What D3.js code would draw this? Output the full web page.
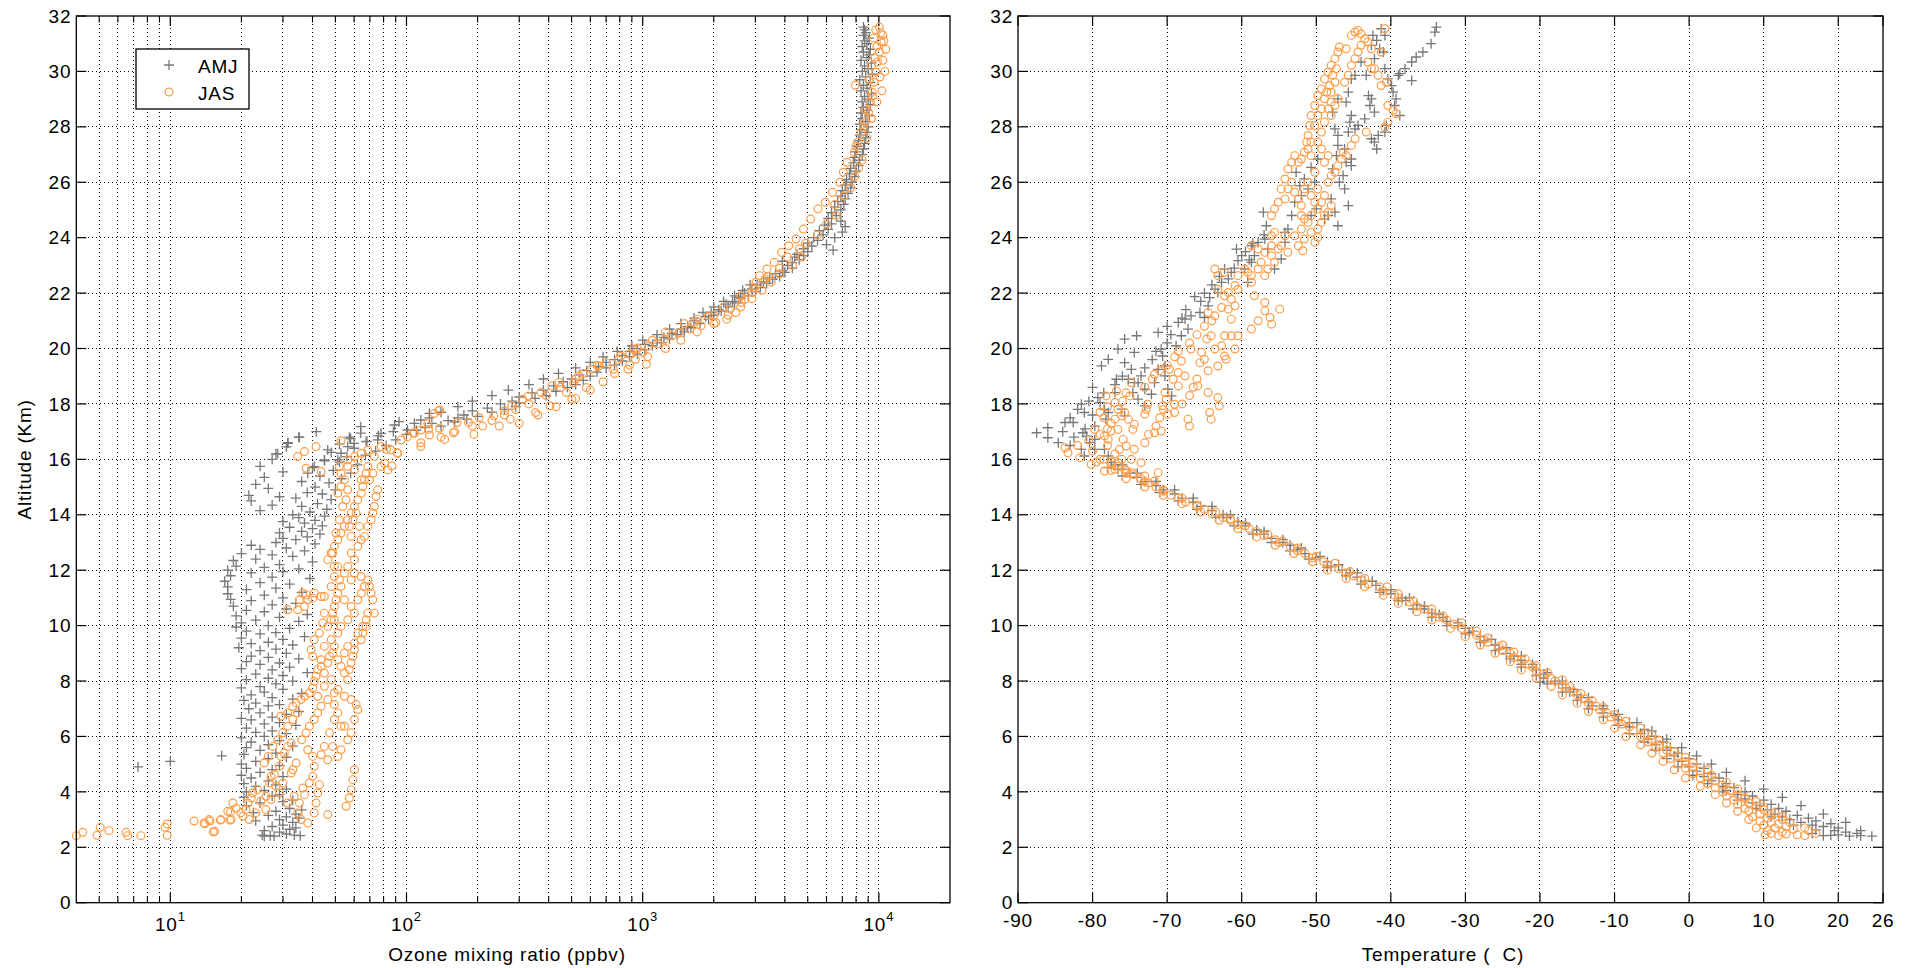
<!DOCTYPE html>
<html><head><meta charset="utf-8">
<script src="https://cdn.jsdelivr.net/npm/d3@7"></script>
<style>
body{margin:0;background:#fff;}
svg text{font-family:"Liberation Sans",Arial,Helvetica,sans-serif;fill:#000;}
</style></head><body>
<svg id="chart" width="1916" height="968"></svg>
<script>
// ---------- tick labels / categories ----------
const altTicks = [0,2,4,6,8,10,12,14,16,18,20,22,24,26,28,30,32];
const tempTicks = [-90,-80,-70,-60,-50,-40,-30,-20,-10,0,10,20,26];
const ozoneMajorTicks = [10,100,1000,10000];
const ozoneMajorExp = ["1","2","3","4"];
const seriesNames = ["AMJ","JAS"];
const ozoneLabel = "Ozone mixing ratio (ppbv)";
const tempLabel = "Temperature (  C)";
const altLabel = "Altitude (Km)";

// ---------- data: [altitude km, ozone ppbv] ----------
const ozoneAMJ = [
[2.40,25],[2.42,26.5],[2.44,24.5],[2.40,27.5],[2.48,31],[2.44,33.5],[2.42,35.5],[2.55,29],[2.60,25],[2.65,32],[2.70,34],[2.75,27],[2.80,30],[2.90,33],[2.95,23],[3.00,29],[3.05,35],[3.10,31],[3.15,26],[3.20,34],[3.25,22.5],[3.30,28],[3.35,36],[3.40,32],
[3.50,21],[3.60,24],[3.65,30],[3.70,33],[3.80,20.5],[3.85,27],[3.90,29],[4.00,21],[4.05,25],[4.10,31],[4.20,23],[4.25,28],[4.30,20.5],[4.40,26],[4.50,22],[4.55,30],[4.60,20],[4.70,24],[4.80,27],[4.85,21],[4.95,29],[5.00,20],
[4.90,7.3],[5.10,10],[5.30,16.5],
[5.10,23],[5.20,26],[5.25,31],[5.35,20.5],[5.40,28],[5.50,24],[5.60,21],[5.65,33],[5.70,26],[5.80,22],[5.85,29],[5.95,20],[6.00,25],[6.10,31],[6.15,23],[6.20,27],[6.30,21],[6.40,34],[6.45,25],[6.50,29],[6.60,22],[6.65,20],[6.70,27],[6.80,31],[6.85,24],[6.90,35],[7.00,21.5],
[7.10,26],[7.15,29],[7.20,23],[7.30,20.5],[7.35,33],[7.40,27],[7.50,22],[7.55,36],[7.60,25],[7.70,30],[7.75,20],[7.80,24],[7.90,28],[8.00,33],[8.05,21],[8.10,26],[8.20,30],[8.25,23],[8.30,38],[8.40,27],[8.45,20],[8.50,32],[8.60,24],[8.65,29],[8.70,21],[8.80,35],[8.85,26],[8.90,22],[9.00,31],
[9.10,24],[9.15,28],[9.20,19.5],[9.30,33],[9.35,22],[9.40,26],[9.50,30],[9.55,20],[9.60,37],[9.70,24],[9.75,28],[9.80,21],[9.90,32],[9.95,19],
[10.00,26],[10.10,20],[10.15,35],[10.20,23],[10.30,29],[10.35,19],[10.40,38],[10.50,25],[10.55,21],[10.60,31],[10.70,18.5],[10.75,27],[10.80,34],[10.90,22],[10.95,18],[11.00,30],[11.10,25],[11.15,17.5],[11.20,36],[11.30,21],[11.35,28],[11.40,17.5],[11.50,32],[11.55,24],[11.60,17],[11.70,39],[11.75,27],[11.80,18],[11.90,22],[11.95,30],[12.00,17.5],[12.05,35],
[12.10,25],[12.15,19],[12.20,29],[12.30,40],[12.35,18.5],[12.40,23],[12.50,33],[12.55,27],[12.60,20],[12.70,37],[12.75,24],[12.80,31],[12.90,22],[12.95,41],[13.00,28],
[13.10,34],[13.15,30],[13.20,38],[13.30,43],[13.35,29],[13.40,36],[13.50,40],[13.55,32],[13.60,44],[13.70,37],[13.75,30],[13.80,41],[13.90,35],[13.95,45],[14.00,33],
[14.10,39],[14.15,24],[14.20,46],[14.30,36],[14.35,27],[14.40,42],[14.50,22],[14.55,48],[14.60,34],[14.65,29],[14.70,21.5],[14.75,44],[14.80,38],[14.90,50],[14.95,26],[15.00,41],
[15.10,23],[15.15,47],[15.20,36],[15.30,53],[15.35,25],[15.40,43],[15.50,58],[15.55,30],[15.60,49],[15.70,40],[15.75,24],[15.80,62],[15.90,52],[15.95,45],[16.00,27],
[16.10,56],[16.15,67],[16.20,28],[16.25,48],[16.30,74],[16.40,60],[16.45,31],[16.50,82],[16.55,52],[16.60,31.5],[16.65,68],[16.70,90],[16.75,58],[16.80,35],[16.85,76],[16.90,100],[16.95,64],[17.00,41.5],[17.00,88],[17.05,110],
[17.18,64],[17.24,89],[17.36,93],[17.30,108],[17.42,115],[17.66,125],[17.06,101],[16.94,78],[16.70,75.5],[16.64,67.5],[16.58,60],[16.46,56.4],[16.80,57.3],[16.22,52.8],[15.98,51.2],[16.34,46.4],[15.98,44.9],[15.74,40.7],[15.50,38.2],[16.80,35.2],[16.58,31.4],[16.20,28.5],
[17.15,120],[17.20,140],[17.30,128],[17.35,160],[17.40,150],[17.45,180],[17.50,165],[17.55,200],[17.60,175],[17.70,230],[17.75,190],[17.80,260],[17.85,220],[17.90,290],[18.00,250],[18.05,300],[18.10,280],
[18.20,350],[18.25,300],[18.30,390],[18.40,340],[18.45,430],[18.50,380],[18.60,480],[18.65,420],[18.70,520],[18.80,460],[18.85,560],[18.90,500],[19.00,600],[19.05,540],
[19.15,640],[19.20,580],[19.30,700],[19.35,650],[19.40,760],[19.50,700],[19.55,820],[19.60,760],[19.70,880],[19.75,820],[19.80,950],[19.90,880],[19.95,1020],[20.00,950],
[20.10,1100],[20.15,1020],[20.20,1200],[20.30,1150],[20.35,1300],[20.40,1230],[20.50,1400],[20.55,1330],[20.60,1500],[20.70,1450],[20.75,1600],[20.80,1550],[20.90,1750],[21.00,1650],[21.05,1900],
[21.15,1850],[21.20,2000],[21.30,1950],[21.35,2150],[21.40,2100],[21.50,2300],[21.60,2250],[21.65,2450],[21.70,2400],[21.80,2600],[21.85,2550],[21.90,2800],[22.00,2700],[22.05,3000],
[22.15,2900],[22.20,3150],[22.30,3050],[22.35,3350],[22.40,3250],[22.50,3550],[22.55,3450],[22.60,3800],[22.70,3650],[22.75,4000],[22.80,3900],[22.90,4300],[23.00,4100],
[23.10,4300],[23.15,3900],[23.20,4600],[23.30,4400],[23.35,4800],[23.40,4500],[23.50,5000],[23.55,6400],[23.60,4800],[23.70,5200],[23.75,6000],[23.80,5000],[23.90,5500],[24.00,6500],[24.00,5300],[24.10,5800],[24.20,7000],[24.25,5600],[24.30,6100],[24.40,7200],[24.45,5900],[24.50,6300],[24.60,6900],[24.70,6100],[24.80,6600],[24.90,6300],[25.00,6900],
[25.10,6500],[25.20,7100],[25.30,6700],[25.40,7200],[25.50,6900],[25.60,7400],[25.70,7000],[25.80,7600],[25.90,7200],[26.00,7700],[26.10,7300],[26.20,7900],[26.30,7500],[26.40,8000],[26.50,7600],[26.60,8200],[26.70,7800],[26.80,8300],[26.90,7900],[27.00,8500],
[27.10,8000],[27.20,8600],[27.30,8100],[27.40,8700],[27.50,8200],[27.60,8800],[27.70,8300],[27.80,8900],[27.90,8400],[28.00,9000],[28.10,8300],[28.20,8800],[28.30,8500],[28.40,9100],[28.50,8400],[28.60,8900],[28.70,8600],[28.80,9200],[28.90,8500],[29.00,9000],
[29.10,8700],[29.20,9300],[29.30,8400],[29.40,8900],[29.50,8600],[29.60,9200],[29.70,8300],[29.80,8800],[29.90,9400],[30.00,8500],[30.10,9000],[30.20,8700],[30.30,9300],[30.40,8400],[30.50,8900],[30.60,9100],[30.70,8600],[30.80,9200],[30.90,8500],[31.00,8900],[31.10,8700],[31.20,9100],[31.30,8600],[31.40,8800],[31.50,8700],[31.60,8600],
[17.50,125],[17.70,140],[17.90,165],[18.10,190],[18.30,230],[18.50,270],[18.70,330],[18.90,380],[19.10,440],[19.30,520],[19.50,600],[19.70,680],[19.90,780],[20.10,900],[20.30,1000],[20.50,1150],[20.70,1300],[20.90,1450],[21.10,1650],[21.30,1800],[21.50,2000],[21.70,2200],[21.90,2450],[22.10,2650],[22.30,2850]
];

const ozoneJAS = [
[2.42,4.0],[2.54,4.26],[2.43,4.9],[2.72,5.05],[2.60,5.5],[2.54,6.5],[2.42,6.6],[2.42,7.5],[2.72,9.5],[2.84,9.7],[2.43,9.7],[2.95,12.6],[2.85,14.0],[2.95,14.7],[2.55,15.2],[2.98,16.3],[2.98,17.9],[3.28,18],[3.41,19],
[2.88,13.9],[3.00,14.6],[2.58,15.4],[3.00,16.4],[3.30,17.5],[3.00,18.1],[3.60,18.4],[3.24,19.9],[3.12,20.3],[3.36,20.9],[3.60,21.3],[3.78,22.0],[3.96,22.3],[4.08,23.4],[3.66,24.2],[3.84,25.4],[4.32,26.3],[4.56,26.7],[4.62,27.6],[4.20,28.0],[4.92,29.0],[5.28,29.4],[5.40,30.4],[5.64,31.4],[5.76,32.5],[4.80,33.0],[5.04,34.1],[3.60,35.2],[4.14,36.4],[3.90,37.0],[2.88,38.2],[4.32,38.8],[4.56,40.1],[4.92,40.7],[3.24,40.7],[3.60,41.4],[3.96,42.1],[4.26,42.8],[5.34,43.5],[3.18,46.4],[6.13,47.2],[5.64,48.7],[7.15,49.5],[5.28,51.2],[5.52,52.8],[6.37,54.6],[3.48,55.5],[3.78,57.3],[4.08,58.3],[4.44,59.3],[4.80,60.2],[5.88,56.4],[6.13,58.3],[6.61,60.2],[6.97,62.2],[7.15,61.2],
[5.04,25],[5.28,26],[5.64,27.2],[5.88,28.5],[6.13,29.9],[6.37,31.4],[6.61,33],[6.85,34.6],[5.88,36],[6.13,37.6],[6.37,38.8],[6.61,40.7],[6.85,42.1],[7.09,43.5],[5.64,44.9],[5.16,46.4],[5.52,38.2],[5.28,40.1],[6.61,49.5],[6.85,51.2],[6.37,52.8],[4.68,32.5],[4.32,30],[3.96,29],[3.72,26.7],[3.36,25.4],[3.24,23],[3.00,21.6],[3.60,31.4],[3.84,33.5],[3.24,34.6],[3.00,35.8],
[6.73,29.4],[6.85,31.4],[7.09,33],[7.21,34.1],[7.33,35.8],[7.45,37],[7.57,38.8],[7.75,40.1],[7.99,40.7],[8.17,41.4],[8.41,42.1],[8.53,43.5],[8.29,44.9],[8.65,46.4],[8.89,47.2],[9.01,48.7],[9.25,49.5],[8.77,51.2],[8.53,52.8],[8.29,54.6],[8.05,56.4],[8.41,57.3],[8.65,58.3],[8.89,59.3],[9.13,60.2],[9.37,60.2],[9.73,62.2],[9.49,64.3],[9.97,65.3],[10.21,67.5],[10.45,68.6],[9.13,39.5],[9.49,40.7],[8.89,40.1],[7.45,42.1],[7.81,44.9],[8.05,48],[7.69,51.2],[7.45,54.6],[7.33,58.3],[7.33,46.4],[7.57,49.5],[8.77,43.5],[9.25,44.9],[9.49,48],[9.73,51.2],[9.01,54.6],[9.25,56.4],[9.73,42.8],[10.09,44.2],
[9.97,46.4],[10.21,48],[10.45,48.7],[10.69,49.5],[10.93,50.3],[11.17,51.2],[11.41,52.8],[11.65,52],[11.89,54.6],[12.13,56.4],[10.69,58.3],[10.45,60.2],[10.93,62.2],[11.17,64.3],[11.41,66.4],[11.65,68.6],[11.17,70.8],[10.93,72],[10.45,73.1],[9.97,67.5],[9.73,65.3],[10.45,44.9],[11.05,43.5],[11.17,40.7],[10.93,38.2],[10.69,37],[11.17,36.4],[10.57,34.6],[10.57,31.4],[11.05,44.9],[10.93,35.2],[11.11,37.6],[10.99,40.1],[10.21,49.5],[9.97,52.8],[10.21,56.4],[10.93,54.6],[11.65,58.3],[11.89,60.2],[11.41,48],[12.13,49.5],[11.77,64.3],[11.41,69.7],
[12.38,46.4],[12.62,48],[12.86,49.5],[13.10,51.2],[13.34,52.8],[13.58,54.6],[13.82,56.4],[14.06,58.3],[14.30,60.2],[14.54,62.2],[14.78,64.3],[15.02,65.3],[15.26,66.4],[15.50,67.5],[15.74,68.6],[12.62,58.3],[12.38,60.2],[12.86,62.2],[13.10,64.3],[13.22,66.4],[13.58,68.6],[13.82,70.8],[14.06,72],[14.30,73.1],[14.66,74.3],[14.90,75.5],[12.13,51.2],[11.77,49.5],[13.22,58.3],[14.90,56.4],[15.26,54.6],[15.50,52.8],[15.74,52],[12.62,48.7],[13.34,50.3],[13.82,52],[14.30,53.7],[14.54,55.5],[13.58,57.3],[13.82,59.3],[14.06,61.2],[13.58,63.2],[14.78,51.2],[15.02,52.8],[15.74,56.4],[15.62,60.2],[15.26,64.3],[15.26,69.7],[15.50,72],[15.74,78.1],[15.98,62.2],
[16.67,52.8],[15.98,56.4],[16.10,60.2],[16.22,64.3],[16.34,68.6],[16.10,73.1],[16.46,78.1],[15.86,80.7],[15.62,83.3],[16.34,86.1],[16.22,91.8],[16.70,94.9],[16.82,101],[16.94,108],[17.06,115],[16.46,115],[17.30,123],[16.88,125],[17.66,131],[17.78,138],[17.12,138],
[16.10,34.6],[16.28,37],[15.68,37.6],[16.46,41.4],[15.56,43.5],
[16.36,82.3],[16.24,91.5],[15.76,86.8],[16.96,107],[16.60,115],[17.08,124],[17.75,137],[16.72,145],[16.96,158],[17.33,164],[17.33,183],[16.90,193],[17.51,203],[17.20,210],[17.57,234],[17.20,247],[17.75,260],[17.45,275],[17.93,279],[18.17,310],[18.29,328],[17.69,352],[18.41,371],[17.93,405],[18.65,413],[18.77,442],[18.41,475],[18.17,501],[18.77,510],[19.01,538],[18.59,577],[19.25,609],[19.37,653],[19.49,700],[19.25,752],[19.73,808],[19.25,866],[19.98,915],[19.61,932],[19.86,1000],[19.43,1037],[20.10,1056],[20.16,1150],[20.34,1236],[20.46,1329],[20.58,1426],[20.70,1586],[20.94,1643],[20.82,1767],[21.06,1704],[21.18,1898],[20.94,2040],[21.06,2270],[21.42,2347],[21.30,2478],[21.66,2616],[21.78,2713],[22.02,2912],[22.39,3017],[22.63,3127],[22.87,3358],[23.11,3604],[23.47,3870],[23.71,4155],[23.95,4461],[24.31,4790],[24.67,5140],[25.04,5520],[25.28,5930],[25.64,6360],[26.00,6830],[26.36,7070],[26.72,7330],[27.08,7860],[27.45,8140],[27.81,8430],[28.17,8730],[28.53,9040],[28.89,9200],[29.25,9360],[29.61,9530],[29.98,9700],[30.34,9870],[30.70,10040],[31.06,10220],[31.30,10400],[31.60,10040],
[26.50,8200],[26.80,8500],[27.30,8000],[27.60,8900],[28.00,8600],[28.30,9300],[28.60,8800],[28.90,9800],[29.10,9400],[29.30,10300],[29.50,7950],[29.70,9100],[29.80,10100],[30.00,10600],[30.20,9300],[30.40,10400],[30.50,9600],[30.80,10700],[30.90,9800],[31.10,10500],[31.20,9500],[31.40,10200],[31.50,9700],[25.50,7100],[25.80,7600],[26.20,7900],[24.50,6000],[24.80,6600],[25.20,6500],[23.80,4900],[24.10,5500],[23.30,4100],[23.60,4600],[22.60,3400],[22.90,3800],[22.20,2950],[22.50,3300],[21.90,2600],[21.50,2200],[21.20,2000],[20.90,1500],[20.60,1250],[20.30,1100],[20.00,950],[19.80,880],[19.60,790],[19.40,640],[19.10,560],[18.90,520],[18.60,450],[18.30,390],[18.00,330],[17.80,290],[17.60,260],[17.40,230],[17.20,190],[17.00,160],[16.80,140],
[17.30,300],[17.60,360],[17.90,430],[18.20,520],[18.50,600],[18.80,680],[19.10,760],[19.40,880],[19.70,1050],[20.00,1250],[20.30,1450],[20.60,1700],[20.90,2000],[21.20,2300],[21.50,2600],[21.80,2900],[22.10,3200],[22.40,3500],[22.70,3800],[23.00,4300],[23.30,4700]
];

// ---------- data: [altitude km, temperature C] ----------
const tempAMJ = [
[2.40,24.5],[2.42,23],[2.40,21.5],[2.45,20],[2.43,19],[2.42,18],[2.50,22.5],[2.55,21],[2.60,19.5],[2.62,17],[2.70,20],[2.75,18],[2.80,16.5],[2.85,19],[2.90,15],[2.95,17],[3.00,13.5],[3.05,16],[3.10,12.5],[3.15,14.5],[3.20,11.5],[3.30,13],[3.35,10.5],[3.40,12],[3.50,9.5],[3.55,11],[3.60,8.5],[3.70,10],[3.75,7.5],[3.85,8.5],[3.90,6.5],[4.00,7.5],[4.05,5],[4.15,6],[4.20,4.5],[4.30,5],[4.40,3],[4.50,4],[4.55,2],[4.65,3],[4.75,1],[4.85,2],[4.90,0],[5.00,1],[5.10,-1],[5.20,0],[5.30,-2],[5.40,-1.5],[5.50,-3],[5.60,-2.5],[5.70,-4.5],[5.80,-3.5],[5.90,-5.5],[6.00,-4.5],[6.10,-6.5],[6.25,-6],[6.35,-8],[6.50,-8],[6.60,-9.5],[6.75,-10],[6.85,-11.5],[7.00,-11.5],[7.10,-13],[7.25,-13.5],[7.40,-14.5],[7.50,-15],[7.60,-16],[7.75,-16.5],[7.90,-17.5],[8.00,-18],[8.10,-19.5],[8.25,-19.5],[8.40,-20.5],[8.50,-21],[8.60,-22.5],[8.75,-22.5],[8.90,-23.5],[9.00,-24.5],[9.15,-25.5],[9.30,-26],[9.45,-27.5],[9.60,-28],[9.75,-29.5],[9.90,-30],[10.00,-31],[10.15,-32.5],[10.30,-33],[10.45,-34.5],[10.60,-35.5],[10.75,-36.5],[10.90,-38],[11.00,-38.5],[11.15,-40],[11.30,-41],[11.45,-42],[11.60,-43.5],[11.75,-44.5],[11.90,-45.5],[12.00,-46.5],[12.15,-48],[12.30,-48.5],[12.45,-50],[12.60,-51.5],[12.75,-52.5],[12.90,-53.5],[13.00,-54.5],[13.15,-56],[13.30,-57],[13.45,-58],[13.60,-59.5],[13.75,-60.5],[13.90,-62],[14.00,-62.5],[14.15,-64],[14.30,-65.5],[14.45,-66.5],[14.60,-68],[14.75,-69],[14.90,-70.5],[15.05,-71.5],[15.20,-73],[15.35,-74],[15.50,-75],[15.65,-76],[15.80,-77],[7.95,-20],
[2.60,23],[2.90,21],[3.20,18],[3.50,15],[3.80,12.5],[4.10,10],[4.40,7.5],[4.70,5],[5.00,3],[5.30,1],[5.60,-1],[5.90,-3],[6.20,-5],[6.50,-7],[6.80,-9.5],[7.10,-11.5],[7.40,-13.5],[7.70,-15.5],[8.00,-17],[8.30,-19],[8.60,-21],[8.90,-22.5],[9.20,-24.5],[9.50,-26.5],[9.80,-29],[10.10,-31],[10.40,-33.5],[10.70,-35.5],[11.00,-37.5],[11.30,-40],[11.60,-42.5],[11.90,-44.5],[12.20,-47],[12.50,-49.5],[12.80,-52],[13.10,-54.5],[13.40,-57],[13.70,-59.5],[14.00,-61.5],[14.30,-64],[14.60,-66.5],[14.90,-69],[15.20,-71.5],[15.50,-74],[15.80,-76],
[2.50,16.5],[2.80,14],[3.10,11],[3.40,9],[3.70,6.5],[4.00,4.5],[4.30,2.5],[4.60,0.5],[4.90,-1.5],[5.20,-3],[5.50,-4.5],[5.80,-6],[6.10,-8],[6.40,-9.5],[6.70,-11.5],[7.00,-13.5],[7.30,-15],[7.60,-17],[7.90,-19],[8.20,-20.5],[8.50,-22.5],[8.80,-24],[9.10,-26],[9.40,-28],[9.70,-30],[10.00,-32.5],[10.30,-34.5],[10.60,-37],[10.90,-39],[11.20,-41.5],[11.50,-44],[11.80,-46],[12.10,-48.5],[12.40,-51],[12.70,-53.5],[13.00,-56],[13.30,-58.5],[13.60,-61],[13.90,-63.5],[14.20,-66],[14.50,-68.5],[14.80,-71],[15.10,-73.5],[15.40,-76],[15.70,-78],
[16.96,-87.5],[17.14,-86],[16.78,-86],[16.60,-84.6],[17.33,-83.7],[17.33,-82.6],[17.99,-81.5],[17.69,-81.1],[16.96,-81.3],[16.84,-80.8],[16.60,-80.4],[16.36,-81.5],[16.12,-81.1],[16.36,-79.7],[18.23,-79.3],[18.05,-79],[17.80,-78.4],[17.69,-77.9],[17.45,-78.2],[17.20,-79.7],[16.72,-79.7],[16.36,-78.4],[16.12,-77.9],[15.88,-77.5],[15.64,-76.6],[20.34,-75.7],[20.46,-74.1],[19.49,-75.7],[19.25,-74.8],[19.86,-74.4],[18.77,-73.9],[19.01,-73.5],[18.53,-73],[18.17,-73.9],[18.41,-74.6],[18.77,-74.4],[17.93,-73],[18.35,-72.1],[18.77,-71.7],[19.25,-71.2],[20.58,-71.2],[19.98,-70.8],[19.37,-70.3],[19.73,-70.6],[19.01,-70.3],[18.53,-69.9],[18.29,-69.4],[20.94,-68.5],[20.10,-68.8],[20.46,-68.1],[21.06,-67.6],[20.70,-67.2],[21.18,-66.8],[21.87,-66.3],[21.30,-65.6],[21.12,-65],[21.54,-64.5],[21.84,-64.3],[22.14,-63.6],[22.02,-63.2],[22.39,-62.7],[22.87,-62.3],[22.51,-61.8],[22.75,-61.4],[23.59,-60.7],[23.17,-60.5],[23.35,-60],[22.87,-59.6],[22.39,-59.2],[23.11,-58.7],[23.71,-58.7],[23.35,-58.3],[23.83,-57.8],[24.92,-57.1],[23.95,-56.9],[24.43,-56.7],[23.59,-56.5],[22.87,-55.6],[23.23,-54.7],[24.19,-54.2],[23.83,-54.2],[24.31,-53.8],[24.80,-53.3],[25.28,-52.9],[26.36,-52.7],[25.88,-52.2],[25.52,-52],[26.12,-51.6],[25.76,-51.1],[24.80,-50.7],[26.54,-50.7],[26.00,-50.2],[26.84,-49.8],[25.04,-50],[24.67,-48.9],[24.80,-48.4],[25.40,-48],[24.92,-47.5],[24.43,-47.1],[26.48,-47.8],[26.96,-47.3],[27.33,-47.1],[26.00,-46.9],[26.24,-46.4],[25.76,-46.2],[25.16,-45.7],[26.72,-46],[26.60,-45.3],[26.84,-45.3],[27.81,-45.7],[27.20,-46.2],[28.17,-45.5],[28.41,-45.3],[27.93,-44.8],[28.05,-44.4],[27.93,-47.5],[27.69,-47.1],[28.53,-47.8],[29.01,-47.1],[28.89,-46],[29.25,-45.7],[29.73,-45.3],[29.86,-44.8],[30.34,-44],[29.86,-43.3],[29.13,-43],[29.01,-42.6],[28.77,-42.8],[28.53,-42.2],[28.29,-43.5],[27.57,-42.6],[27.45,-42.2],[27.69,-41.7],[27.81,-40.8],[28.05,-40.6],[27.20,-41.9],[30.94,-42.6],[31.30,-42.4],[31.12,-41.9],[30.82,-41.5],[30.46,-42.2],[30.70,-41],[30.10,-40.8],[29.73,-40.4],[29.49,-39.9],[29.25,-39.7],[28.77,-39.5],[29.01,-39.3],[29.86,-39],[28.41,-38.8],[31.30,-40.8],[31.54,-41.3],[29.92,-38.8],[30.10,-38.1],[30.34,-37.2],[30.52,-36.6],[30.70,-35.7],[31.00,-34.6],[31.42,-34.1],[31.60,-33.9],[29.67,-37.2],[19.98,-76.6],[17.81,-76.1],[17.57,-75.7],[18.89,-75.2],[18.89,-76.8],[18.41,-77],[19.37,-78.8],[19.61,-77.9],
[17.00,-84],[17.50,-83],[17.80,-82],[18.10,-80.5],[18.40,-78.5],[18.70,-77],[19.00,-76],[19.30,-73],[19.60,-72],[19.90,-71.5],[20.20,-70],[20.50,-69.5],[20.80,-70],[21.10,-68],[21.40,-67.5],[21.70,-65.5],[22.00,-65],[22.30,-64],[22.60,-63],[22.90,-61],[23.20,-59],[23.50,-59.5],[23.80,-58.5],[24.10,-57],[16.50,-83],[16.80,-82.5],[17.10,-81],[17.60,-80],[18.60,-80]
];

const tempJAS = [
[2.45,10.2],[2.50,11],[2.42,12],[2.48,13],[2.45,14.5],[2.42,15.5],[2.50,17],[2.55,12.5],[2.60,10.5],[2.65,14],[2.70,11.5],[2.75,13],[2.80,10],[2.85,12],[2.90,11],[2.95,9.5],[3.00,12.5],[3.05,10.5],[3.10,8.5],[3.15,11],[3.20,9.5],[3.30,8],[3.35,10],[3.40,7.5],[3.50,9],[3.55,6.5],[3.60,8],[3.70,6],[3.75,7.5],[3.85,5],[3.90,6.5],[4.00,4.5],[4.05,5.5],[4.15,3.5],[4.25,4.5],[4.30,2.5],[4.40,3.5],[4.50,1.5],[4.55,2.5],[4.65,0.5],[4.75,1.5],[4.85,-0.5],[4.90,0.5],[5.00,-1.5],[5.10,-0.5],[5.20,-2.5],[5.30,-1.5],[5.40,-3.5],[5.50,-3],[5.60,-4.5],[5.70,-4],[5.80,-5.5],[5.90,-5],[6.00,-6.5],[6.10,-6],[6.20,-7.5],[6.35,-8],[6.45,-9],[6.60,-9.5],[6.70,-10.5],[6.85,-11],[6.95,-12],[7.10,-12.5],[7.20,-13.5],[7.35,-14],[7.50,-15],[7.60,-15.5],[7.75,-16.5],[7.85,-17],[8.00,-18],[8.10,-18.5],[8.25,-19.5],[8.35,-20.5],[8.50,-21],[8.60,-21.5],[8.75,-22.5],[8.85,-23.5],[9.00,-24],[9.10,-25],[9.25,-25.5],[9.40,-27],[9.50,-27.5],[9.65,-28.5],[9.80,-29.5],[9.90,-30.5],[10.05,-31.5],[10.20,-32.5],[10.30,-33.5],[10.45,-34.5],[10.60,-35.5],[10.70,-36.5],[10.85,-37.5],[11.00,-39],[11.10,-39.5],[11.25,-41],[11.40,-41.5],[11.50,-43],[11.65,-44],[11.80,-45],[11.90,-46],[12.05,-47],[12.20,-48.5],[12.30,-49],[12.45,-50.5],[12.60,-51.5],[12.70,-52.5],[12.85,-53.5],[13.00,-55],[13.10,-55.5],[13.25,-57],[13.40,-58],[13.50,-59],[13.65,-60.5],[13.80,-61.5],[13.90,-62.5],[14.05,-64],[14.20,-65],[14.30,-66],[14.45,-67.5],[14.60,-68.5],[14.70,-69.5],[14.85,-70.5],[15.00,-71.5],[15.15,-72.5],[15.30,-73.5],[15.45,-74.5],[15.60,-75.5],[15.75,-76.5],[15.90,-77.5],[16.00,-78.5],
[2.60,16],[2.70,15.5],[2.90,13.5],[3.10,12.5],[3.25,11.5],[3.45,10],[3.65,9],[3.80,7.5],[4.10,6.5],[4.35,5],[4.60,3],[4.80,2.5],[5.05,0.5],[5.25,-0.5],[5.45,-2],[5.65,-3],[5.85,-4],[6.05,-5],[6.30,-6.5],[6.55,-8.5],[6.80,-10],[7.05,-11.5],[7.30,-13],[7.55,-14.5],[7.80,-16],[8.05,-17],[8.30,-19],[8.55,-20.5],[8.80,-22],[9.05,-23.5],[9.30,-25],[9.55,-27],[9.80,-28.5],[10.10,-30.5],[10.35,-33],[10.60,-34.5],[10.90,-37],[11.15,-39],[11.40,-40.5],[11.70,-43.5],[11.95,-45.5],[12.25,-47.5],[12.50,-50],[12.80,-52.5],[13.05,-54.5],[13.30,-56.5],[13.60,-59.5],[13.85,-61.5],[14.10,-63.5],[14.35,-66],[14.60,-68],[14.90,-70.5],[15.20,-73],[15.50,-75.5],[15.80,-77.5],
[2.70,9],[3.00,8],[3.30,6.5],[3.60,5],[3.90,3.5],[4.20,1.5],[4.50,-0.5],[4.80,-2],[5.10,-3.5],[5.40,-5],[5.70,-6.5],[6.00,-8.5],[6.30,-10],[6.60,-11.5],[6.90,-13.5],[7.20,-15],[7.50,-17],[7.80,-18.5],[8.10,-20.5],[8.40,-22.5],[8.70,-24],[9.00,-26],[9.30,-28],[9.60,-30],[9.90,-32],[10.20,-34.5],[10.50,-36.5],[10.80,-39],[11.10,-41],[11.40,-43.5],[11.70,-46],[12.00,-48.5],[12.30,-50.5],[12.60,-53],[12.90,-55.5],[13.20,-58],[13.50,-60.5],[13.80,-63],[14.10,-65.5],[14.40,-68],[14.70,-70.5],[15.00,-73],[15.30,-75.5],[15.60,-77.5],[15.90,-79.5],
[16.42,-83.7],[16.24,-83.3],[16.06,-81.7],[15.82,-80.2],[16.00,-79.0],[15.58,-78.4],[15.64,-77.0],[15.88,-76.6],[16.00,-76.1],[15.64,-75.7],[16.00,-74.8],[15.52,-74.6],[15.88,-73.5],[15.40,-73.0],[15.22,-71.7],[15.52,-71.2],
[18.29,-78.2],[18.47,-76.8],[18.05,-77.0],[17.81,-76.6],[17.57,-76.1],[17.69,-75.7],[17.45,-75.2],[17.08,-74.6],[17.27,-74.4],[17.08,-76.6],[17.45,-77.0],[16.72,-75.9],[16.48,-75.5],[16.36,-74.4],[16.36,-76.4],[17.02,-77.5],[16.72,-77.9],[17.08,-79.7],[16.84,-78.4],[18.77,-74.8],[18.29,-75.0],[17.63,-73.0],[17.81,-72.8],[17.99,-72.6],[19.07,-71.7],[16.96,-71.7],[17.02,-70.8],[18.41,-70.3],[17.93,-70.6],[18.17,-70.1],[17.63,-69.9],[19.25,-69.7],[17.99,-69.0],[17.69,-69.0],[18.89,-69.2],[19.13,-68.5],[18.65,-68.5],[19.55,-68.1],[19.01,-67.6],[17.45,-67.2],[17.20,-67.0],[19.98,-66.8],[18.65,-65.9],[19.49,-65.6],[19.86,-65.4],[19.61,-65.0],[20.34,-64.7],[18.41,-64.5],[17.69,-64.3],[17.45,-64.1],[18.23,-63.2],[17.93,-63.0],[20.46,-64.1],[19.98,-63.6],[19.37,-63.2],[20.10,-62.7],[19.73,-62.3],[20.46,-62.3],[19.61,-62.1],[20.46,-61.4],[19.98,-60.9],[21.30,-64.5],[21.18,-63.6],[21.48,-62.7],[21.42,-61.8],[21.06,-61.4],[21.54,-60.9],[20.46,-60.5],[20.70,-58.7],[21.00,-57.8],[21.36,-56.9],[21.12,-56.2],[20.88,-56.0],[21.42,-54.9],[21.66,-56.9],
[22.14,-63.2],[21.90,-62.3],[22.02,-61.8],[21.78,-61.4],[22.27,-60.9],[22.14,-60.5],[22.87,-63.6],[22.63,-63.2],[22.75,-62.3],[22.63,-60.5],[22.87,-59.6],[22.63,-58.7],[22.39,-58.7],[21.90,-58.3],[22.75,-59.2],[22.87,-57.8],[23.11,-57.4],[22.63,-56.9],[22.87,-56.5],[23.35,-56.0],[23.11,-55.6],[23.71,-58.7],[23.59,-57.8],[23.47,-56.9],[23.71,-56.0],[23.59,-55.1],[24.07,-56.0],[24.19,-55.6],[23.71,-54.7],[24.07,-54.2],[23.47,-53.8],[24.07,-52.9],[24.31,-52.0],[23.53,-51.8],[23.71,-52.4],[23.95,-51.6],[24.19,-50.7],[23.83,-50.2],[24.01,-49.8],
[24.80,-56.0],[25.04,-55.6],[25.28,-55.1],[25.76,-54.7],[26.12,-54.2],[26.48,-53.8],[26.72,-53.3],[26.96,-52.9],[26.72,-52.4],[26.84,-52.0],[27.08,-51.6],[27.45,-51.3],[27.69,-51.1],[28.05,-50.9],[28.41,-50.7],[28.77,-50.2],[29.13,-49.8],[29.37,-49.3],[29.73,-48.9],[29.98,-48.4],[30.22,-48.0],[30.46,-47.5],[30.70,-47.1],[30.88,-46.9],[30.82,-46.0],[31.30,-45.3],[31.42,-44.8],[31.48,-44.4],[31.36,-44.0],[31.18,-43.5],[31.06,-43.1],[30.82,-42.6],[30.10,-42.2],[29.49,-41.3],[31.54,-40.8],[29.61,-40.6],[28.77,-40.4],[28.59,-39.7],[28.47,-39.3],[28.17,-40.4],[27.99,-40.8],[27.81,-43.3],[27.57,-44.8],
[25.40,-54.2],[25.76,-53.8],[26.00,-53.3],[25.64,-52.9],[25.40,-52.4],[25.16,-52.0],[25.76,-51.6],[26.00,-51.1],[25.52,-50.7],[25.28,-50.2],[25.04,-49.8],[25.28,-49.3],[25.76,-49.8],[26.36,-50.2],[26.96,-50.7],[27.20,-51.1],[27.45,-50.7],[28.05,-50.2],[28.41,-49.8],[28.65,-49.3],[29.01,-48.9],[29.25,-48.6],[29.49,-48.2],[29.25,-48.0],[29.61,-47.5],[29.86,-47.8],[30.10,-47.3],
[24.31,-49.8],[24.67,-51.6],[24.80,-52.0],[24.55,-51.1],[24.80,-50.7],[24.55,-49.3],[24.80,-48.9],[24.92,-48.4],[25.16,-48.0],[25.52,-48.9],[26.00,-48.4],[26.24,-48.0],[26.36,-47.5],[26.60,-47.1],[26.84,-46.6],[27.08,-46.4],[26.96,-46.0],[27.33,-45.3],[26.96,-48.4],[26.72,-48.9],[27.20,-49.3],[27.45,-49.8],[27.81,-49.3],[28.17,-48.9],[28.41,-48.0],[28.77,-47.5],[29.01,-47.1],[28.89,-48.0],[28.65,-48.4],[30.22,-45.3],[29.86,-45.7],[29.61,-46.2],[30.46,-44.8],[30.70,-44.4],[30.94,-44.0],[30.34,-43.1],[30.10,-42.6],[29.86,-41.7],[30.70,-41.3],
[16.50,-82],[16.70,-80.5],[16.90,-79],[17.10,-78],[17.30,-77.5],[17.50,-78.5],[17.70,-79],[17.90,-78],[18.10,-76],[18.40,-75.5],[18.60,-73],[18.90,-72],[19.20,-71],[19.40,-70],[19.70,-69],[19.90,-68.5],[20.20,-67],[20.50,-66],[20.80,-65],[21.00,-64],[16.60,-73],[16.90,-72.5],[17.20,-71.5],[17.50,-71],[17.80,-70.5],[18.00,-68],[18.30,-67],[18.60,-66.5],[18.90,-66],[19.20,-64.5],[16.30,-80],[16.50,-78],[16.20,-77]
];

// ---------- layout ----------
const svg = d3.select("#chart");
const TOP = 16, BOTTOM = 902.7;
const yScale = d3.scaleLinear().domain([0, 32]).range([BOTTOM, TOP]);
const xOz = d3.scaleLog().domain([4, 20000]).range([76.3, 950]);
const xTe = d3.scaleLinear().domain([-90, 26]).range([1018, 1883]);
const GRAY = "#787878", ORANGE = "#ff9c45";
const FS = 19, LS = 0.8;

// minor log ticks (positions derived from decades)
const ozMinor = [];
[1, 10, 100, 1000].forEach(d => { for (let k = 2; k <= 9; k++) { const v = k * d; if (v > 4 && v < 20000) ozMinor.push(v); } });

function drawPanel(x, L, R, gridX, majorX, minorX) {
  const g = svg.append("g");
  gridX.forEach(v => g.append("line").attr("x1", x(v)).attr("x2", x(v)).attr("y1", TOP).attr("y2", BOTTOM)
    .attr("stroke", "#000").attr("stroke-width", 1).attr("stroke-dasharray", "1,3").attr("shape-rendering", "crispEdges"));
  altTicks.filter(a => a > 0 && a < 32).forEach(a => g.append("line").attr("x1", L).attr("x2", R).attr("y1", yScale(a)).attr("y2", yScale(a))
    .attr("stroke", "#000").attr("stroke-width", 1).attr("stroke-dasharray", "1,3").attr("shape-rendering", "crispEdges"));
  altTicks.forEach(a => {
    g.append("line").attr("x1", L).attr("x2", L + 10).attr("y1", yScale(a)).attr("y2", yScale(a)).attr("stroke", "#000").attr("stroke-width", 1.2);
    g.append("line").attr("x1", R - 10).attr("x2", R).attr("y1", yScale(a)).attr("y2", yScale(a)).attr("stroke", "#000").attr("stroke-width", 1.2);
  });
  majorX.forEach(v => {
    g.append("line").attr("x1", x(v)).attr("x2", x(v)).attr("y1", BOTTOM).attr("y2", BOTTOM - 10).attr("stroke", "#000").attr("stroke-width", 1.2);
    g.append("line").attr("x1", x(v)).attr("x2", x(v)).attr("y1", TOP).attr("y2", TOP + 10).attr("stroke", "#000").attr("stroke-width", 1.2);
  });
  minorX.forEach(v => {
    g.append("line").attr("x1", x(v)).attr("x2", x(v)).attr("y1", BOTTOM).attr("y2", BOTTOM - 6.5).attr("stroke", "#000").attr("stroke-width", 1.1);
    g.append("line").attr("x1", x(v)).attr("x2", x(v)).attr("y1", TOP).attr("y2", TOP + 6.5).attr("stroke", "#000").attr("stroke-width", 1.1);
  });
  altTicks.forEach(a => g.append("text").attr("x", L - 5).attr("y", yScale(a)).attr("dy", "0.35em")
    .attr("text-anchor", "end").attr("font-size", FS).attr("letter-spacing", LS).text(a));
  return g;
}

function drawPoints(x, data, kind) {
  const g = svg.append("g");
  if (kind === "plus") {
    g.selectAll("path").data(data).enter().append("path")
      .attr("d", d => `M${x(d[1]) - 5},${yScale(d[0])}h10M${x(d[1])},${yScale(d[0]) - 5}v10`)
      .attr("stroke", GRAY).attr("stroke-width", 1.3).attr("fill", "none");
  } else {
    g.selectAll("circle").data(data).enter().append("circle")
      .attr("cx", d => x(d[1])).attr("cy", d => yScale(d[0])).attr("r", 3.9)
      .attr("stroke", ORANGE).attr("stroke-width", 1.2).attr("fill", "none");
  }
}

// ----- left panel: ozone -----
drawPanel(xOz, 76.3, 950, ozoneMajorTicks.concat(ozMinor), ozoneMajorTicks, ozMinor);
drawPoints(xOz, ozoneAMJ, "plus");
drawPoints(xOz, ozoneJAS, "circle");
ozoneMajorTicks.forEach((v, i) => {
  const t = svg.append("text").attr("x", xOz(v)).attr("y", 931).attr("text-anchor", "middle").attr("font-size", FS).attr("letter-spacing", LS);
  t.append("tspan").text("10");
  t.append("tspan").attr("dy", -10).attr("font-size", 13).text(ozoneMajorExp[i]);
});
svg.append("text").attr("x", 507).attr("y", 961).attr("text-anchor", "middle").attr("font-size", FS).attr("letter-spacing", LS).text(ozoneLabel);
svg.append("text").attr("transform", `translate(31,${(TOP + BOTTOM) / 2}) rotate(-90)`).attr("text-anchor", "middle")
  .attr("font-size", FS).attr("letter-spacing", LS).text(altLabel);

// ----- right panel: temperature -----
drawPanel(xTe, 1018, 1883, tempTicks.filter(t => t > -90 && t < 26), tempTicks, []);
drawPoints(xTe, tempAMJ, "plus");
drawPoints(xTe, tempJAS, "circle");
tempTicks.forEach(t => svg.append("text").attr("x", xTe(t)).attr("y", 927).attr("text-anchor", "middle")
  .attr("font-size", FS).attr("letter-spacing", LS).text(t));
svg.append("text").attr("x", 1443).attr("y", 961).attr("text-anchor", "middle").attr("font-size", FS)
  .attr("letter-spacing", LS).style("white-space", "pre").text(tempLabel);

// frames
[[76.3, 950], [1018, 1883]].forEach(([L, R]) => svg.append("rect").attr("x", L).attr("y", TOP).attr("width", R - L).attr("height", BOTTOM - TOP)
  .attr("fill", "none").attr("stroke", "#000").attr("stroke-width", 1.3));

// legend
const lg = svg.append("g");
lg.append("rect").attr("x", 136).attr("y", 49).attr("width", 113).attr("height", 60).attr("fill", "#fff").attr("stroke", "#000").attr("stroke-width", 1.3);
lg.append("path").attr("d", "M164,65h10M169,60v10").attr("stroke", GRAY).attr("stroke-width", 1.3);
lg.append("circle").attr("cx", 169).attr("cy", 92).attr("r", 3.9).attr("fill", "none").attr("stroke", ORANGE).attr("stroke-width", 1.2);
seriesNames.forEach((n, i) => lg.append("text").attr("x", 198).attr("y", i === 0 ? 72.5 : 99.5).attr("font-size", FS).attr("letter-spacing", LS).text(n));
</script>
</body></html>
